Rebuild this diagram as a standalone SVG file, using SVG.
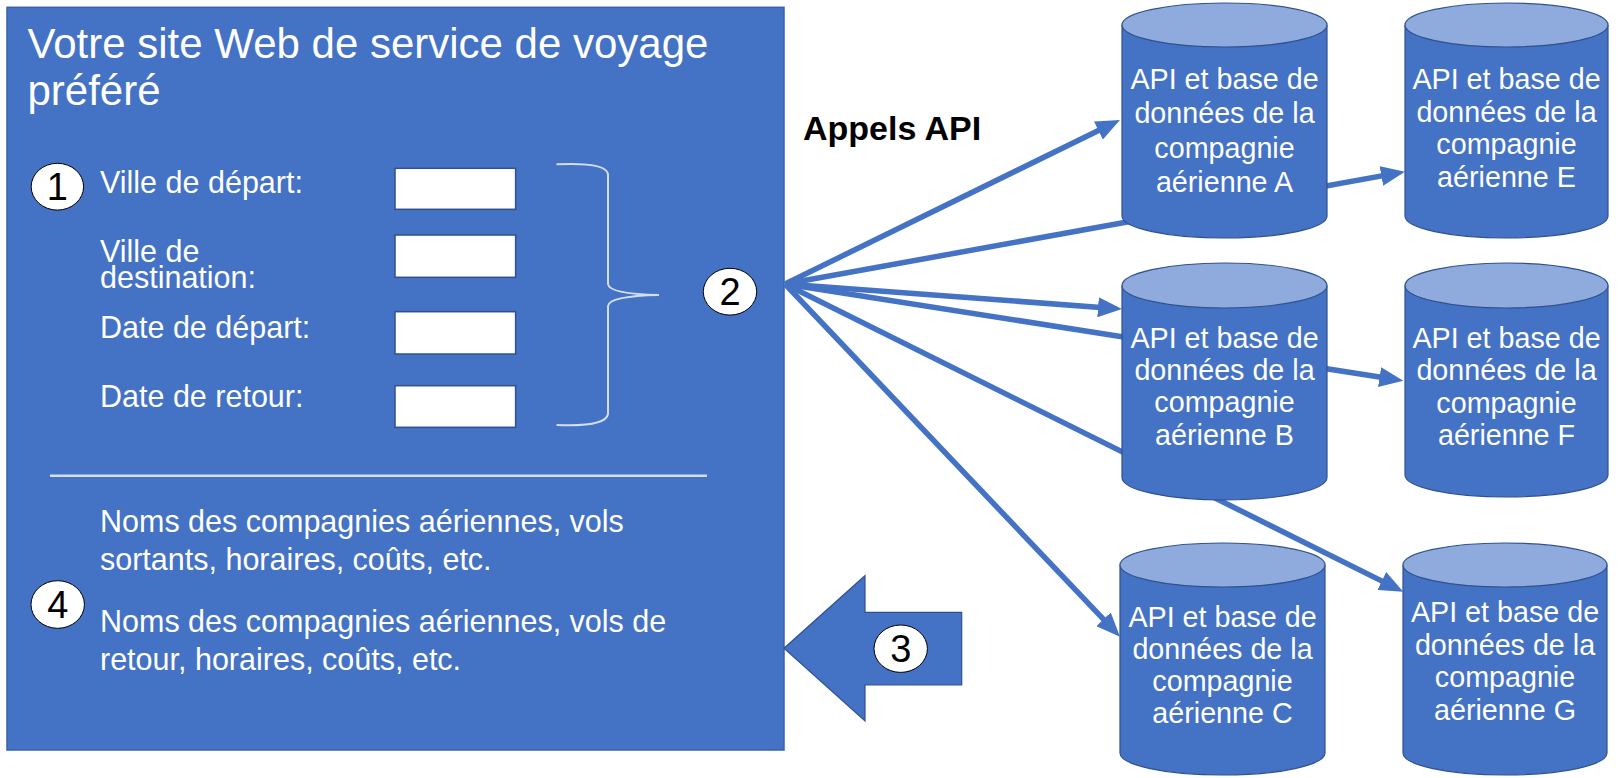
<svg xmlns="http://www.w3.org/2000/svg" width="1618" height="778" viewBox="0 0 1618 778">
<style>
.panel{fill:#4472C4;stroke:#3A62A8;stroke-width:1.5}
.wt{font-family:"Liberation Sans",Arial,sans-serif;fill:#FFFFFF}
.box{fill:#FFFFFF;stroke:#2F528F;stroke-width:1.5}
.num{fill:#FFFFFF;stroke:#000000;stroke-width:1}
.numt{font-family:"Liberation Sans",Arial,sans-serif;font-size:38px;fill:#000000;text-anchor:middle}
.cylb{fill:#4472C4;stroke:#2F528F;stroke-width:1.2}
.cylt{fill:#8FAADC;stroke:#2F528F;stroke-width:1.2}
.ct{font-family:"Liberation Sans",Arial,sans-serif;font-size:28.7px;fill:#FFFFFF;text-anchor:middle}
.ln{stroke:#4472C4;stroke-width:5.5;fill:none}
</style>
<defs>
<marker id="ah" markerUnits="userSpaceOnUse" markerWidth="24" markerHeight="20" viewBox="0 0 24 20" refX="16" refY="10" orient="auto">
<path d="M0,0 L24,10 L0,20 z" fill="#4472C4"/>
</marker>
</defs>
<rect width="1618" height="778" fill="#FFFFFF"/>

<g id="site">
<rect class="panel" x="7" y="7.3" width="777" height="742.7"/>
<text class="wt" x="27.5" y="58.3" font-size="42">Votre site Web de service de voyage</text>
<text class="wt" x="27.5" y="105" font-size="42">préféré</text>
<text class="wt" x="100" y="193.3" font-size="30.5">Ville de départ:</text>
<text class="wt" x="100" y="261.7" font-size="30.5">Ville de</text>
<text class="wt" x="100" y="287.5" font-size="30.5">destination:</text>
<text class="wt" x="100" y="338.3" font-size="30.5">Date de départ:</text>
<text class="wt" x="100" y="407.3" font-size="30.5">Date de retour:</text>
<rect class="box" x="395" y="168.3" width="120.6" height="41"/>
<rect class="box" x="395" y="235" width="120.6" height="42.3"/>
<rect class="box" x="395" y="311.7" width="120.6" height="42.3"/>
<rect class="box" x="395" y="385.7" width="120.6" height="41.6"/>
<path d="M556.5,164.3 Q606,162 608,174 L608,284 Q609,294 659,295 Q609,296 608,306 L608,414 Q606,427 556.5,425" fill="none" stroke="#D3DEF3" stroke-width="2"/>
<line x1="50" y1="475.7" x2="707" y2="475.7" stroke="#D3DEF3" stroke-width="2.5"/>
<text class="wt" x="100" y="531.7" font-size="30.5">Noms des compagnies aériennes, vols</text>
<text class="wt" x="100" y="570" font-size="30.5">sortants, horaires, coûts, etc.</text>
<text class="wt" x="100" y="631.7" font-size="30.5">Noms des compagnies aériennes, vols de</text>
<text class="wt" x="100" y="670" font-size="30.5">retour, horaires, coûts, etc.</text>
</g>

<g id="step1"><ellipse class="num" cx="57.4" cy="186.7" rx="26.2" ry="23.4"/><text class="numt" x="57.4" y="200.2">1</text></g>
<g id="step2"><ellipse class="num" cx="730" cy="291.7" rx="26.7" ry="23.4"/><text class="numt" x="730" y="305.2">2</text></g>
<g id="step4"><ellipse class="num" cx="57.7" cy="604.5" rx="26.7" ry="23.8"/><text class="numt" x="57.7" y="618">4</text></g>

<text x="803" y="140" font-family="Liberation Sans, Arial, sans-serif" font-size="34" font-weight="bold" fill="#000000">Appels API</text>

<g id="connectors">
<line class="ln" x1="785" y1="284" x2="1112.8" y2="123.5" marker-end="url(#ah)"/>
<line class="ln" x1="785" y1="284" x2="1397.1" y2="173.1" marker-end="url(#ah)"/>
<line class="ln" x1="785" y1="284" x2="1114" y2="308.4" marker-end="url(#ah)"/>
<line class="ln" x1="785" y1="284" x2="1395.4" y2="379.5" marker-end="url(#ah)"/>
<line class="ln" x1="785" y1="284" x2="1396.1" y2="588.1" marker-end="url(#ah)"/>
<line class="ln" x1="785" y1="284" x2="1114.5" y2="630.9" marker-end="url(#ah)"/>
</g>

<g id="cylA">
<path class="cylb" d="M1122,25 V216 A102.5,22 0 0 0 1327,216 V25"/>
<ellipse class="cylt" cx="1224.5" cy="25" rx="102.5" ry="22"/>
<text class="ct"><tspan x="1224.5" y="88.5">API et base de</tspan><tspan x="1224.5" y="123">données de la</tspan><tspan x="1224.5" y="157.5">compagnie</tspan><tspan x="1224.5" y="192.3">aérienne A</tspan></text>
</g>
<g id="cylE">
<path class="cylb" d="M1405,25 V216 A101.5,22 0 0 0 1608,216 V25"/>
<ellipse class="cylt" cx="1506.5" cy="25" rx="101.5" ry="22"/>
<text class="ct"><tspan x="1506.5" y="89.3">API et base de</tspan><tspan x="1506.5" y="121.8">données de la</tspan><tspan x="1506.5" y="154.3">compagnie</tspan><tspan x="1506.5" y="186.8">aérienne E</tspan></text>
</g>
<g id="cylB">
<path class="cylb" d="M1122,285.5 V477.5 A102.5,22.5 0 0 0 1327,477.5 V285.5"/>
<ellipse class="cylt" cx="1224.5" cy="285.5" rx="102.5" ry="22.5"/>
<text class="ct"><tspan x="1224.5" y="347.5">API et base de</tspan><tspan x="1224.5" y="379.8">données de la</tspan><tspan x="1224.5" y="412.1">compagnie</tspan><tspan x="1224.5" y="444.5">aérienne B</tspan></text>
</g>
<g id="cylF">
<path class="cylb" d="M1405,285.5 V475 A101.5,22 0 0 0 1608,475 V285.5"/>
<ellipse class="cylt" cx="1506.5" cy="285.5" rx="101.5" ry="22.5"/>
<text class="ct"><tspan x="1506.5" y="347.6">API et base de</tspan><tspan x="1506.5" y="380.2">données de la</tspan><tspan x="1506.5" y="412.8">compagnie</tspan><tspan x="1506.5" y="445.3">aérienne F</tspan></text>
</g>
<g id="cylC">
<path class="cylb" d="M1120,565 V753 A102.5,22 0 0 0 1325,753 V565"/>
<ellipse class="cylt" cx="1222.5" cy="565" rx="102.5" ry="22"/>
<text class="ct"><tspan x="1222.5" y="626.7">API et base de</tspan><tspan x="1222.5" y="658.9">données de la</tspan><tspan x="1222.5" y="691.1">compagnie</tspan><tspan x="1222.5" y="723.3">aérienne C</tspan></text>
</g>
<g id="cylG">
<path class="cylb" d="M1403,565 V753 A102,22 0 0 0 1607,753 V565"/>
<ellipse class="cylt" cx="1505" cy="565" rx="102" ry="22"/>
<text class="ct"><tspan x="1505" y="622">API et base de</tspan><tspan x="1505" y="654.7">données de la</tspan><tspan x="1505" y="687.4">compagnie</tspan><tspan x="1505" y="720">aérienne G</tspan></text>
</g>

<g id="step3">
<polygon points="784,648.3 865,575.7 865,612.3 961.7,612.3 961.7,685 865,685 865,721" fill="#4472C4" stroke="#2F528F" stroke-width="1.2"/>
<ellipse class="num" cx="900.7" cy="648.7" rx="26.7" ry="23.7"/>
<text class="numt" x="900.7" y="662.2">3</text>
</g>
</svg>
